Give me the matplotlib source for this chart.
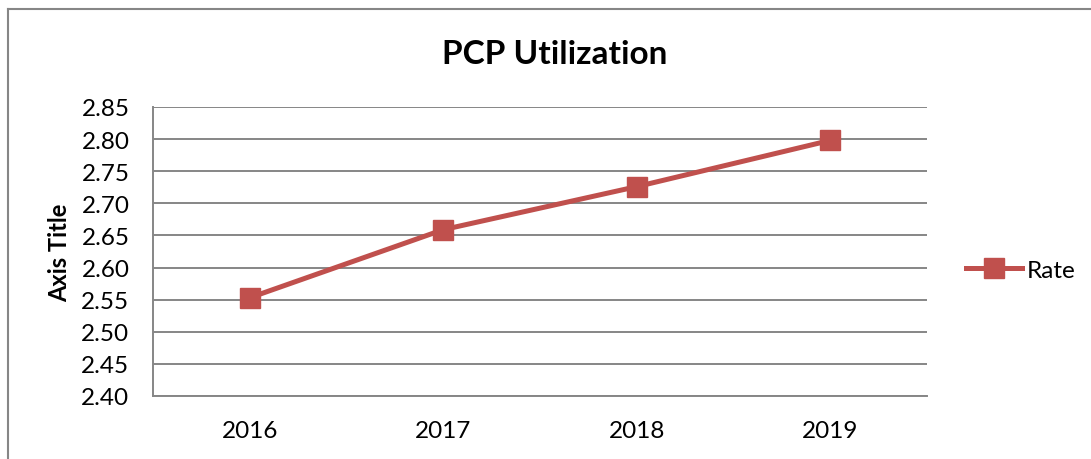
import matplotlib
matplotlib.use('Agg')
from matplotlib import pyplot as plt
from matplotlib.lines import Line2D

# Data
years = ['2016', '2017', '2018', '2019']
rate = [2.553, 2.659, 2.726, 2.798]
y_ticks = [2.40, 2.45, 2.50, 2.55, 2.60, 2.65, 2.70, 2.75, 2.80, 2.85]

red = '#C0504D'
grid_col = '#868686'

plt.rcParams['font.family'] = ['Lato', 'DejaVu Sans']

fig = plt.figure(figsize=(10.91, 4.6), dpi=100)
ax = fig.add_axes([153/1091, 1 - 397/460, (927-153)/1091, (397-108)/460])

x = list(range(len(years)))
ax.plot(x, rate, color=red, linewidth=3.6, marker='s', markersize=14.5,
        markerfacecolor=red, markeredgecolor=red, label='Rate', zorder=3)

ax.set_xlim(-0.5, len(years) - 0.5)
ax.set_ylim(2.40, 2.85)
ax.set_xticks(x)
ax.set_xticklabels(years)
ax.set_yticks(y_ticks)
ax.set_yticklabels(['%.2f' % v for v in y_ticks])
ax.tick_params(axis='both', length=0, labelsize=17.5, colors='black')
ax.tick_params(axis='x', pad=17)
ax.tick_params(axis='y', pad=17)

ax.grid(axis='y', color=grid_col, linewidth=1.4)
ax.set_axisbelow(True)
for side in ['top', 'right']:
    ax.spines[side].set_visible(False)
ax.spines['left'].set_color(grid_col)
ax.spines['left'].set_linewidth(1.4)
ax.spines['bottom'].set_color(grid_col)
ax.spines['bottom'].set_linewidth(1.4)

ax.set_ylabel('Axis Title', fontsize=17, fontweight='bold', labelpad=7)

fig.text(555/1091, 1 - 55/460, 'PCP Utilization', fontsize=24, fontweight='bold',
         ha='center', va='center')

# legend on the right
handle = Line2D([], [], color=red, linewidth=3.6, marker='s', markersize=14.5,
                markerfacecolor=red, markeredgecolor=red)
fig.legend([handle], ['Rate'], loc='center left', bbox_to_anchor=(966/1091, 1 - 271/460),
           frameon=False, fontsize=17.5, handlelength=2.3, handletextpad=0.2,
           borderpad=0, borderaxespad=0)

# outer chart border (left and top visible)
fig.add_artist(Line2D([8/1091, 8/1091], [0, 1 - 10/460], color=grid_col, linewidth=1.5))
fig.add_artist(Line2D([8/1091, 1], [1 - 10/460, 1 - 10/460], color=grid_col, linewidth=1.5))

fig.savefig('out.png', dpi=100)
